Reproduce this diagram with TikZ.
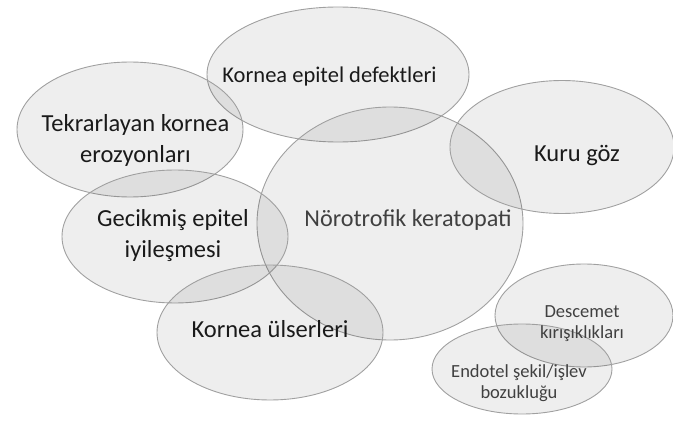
\documentclass[tikz,border=0pt]{standalone}
\usepackage{fontspec}
\setmainfont{Carlito}
\usetikzlibrary{shapes.geometric}
\definecolor{edgegray}{HTML}{A0A0A0}
\definecolor{darktext}{HTML}{1A1A1A}
\definecolor{midtext}{HTML}{404040}
\tikzset{
  blob/.style={ellipse, draw=edgegray, line width=0.9pt, fill=black, fill opacity=0.065,
    draw opacity=1, inner sep=0pt, outer sep=0pt},
  biglabel/.style={font=\fontsize{24.5}{31}\selectfont, text=darktext, align=center, anchor=base, inner sep=0pt},
  greylabel/.style={font=\fontsize{24.2}{31}\selectfont, text=midtext, align=center, anchor=base, inner sep=0pt},
  smalllabel/.style={font=\fontsize{18.5}{21}\selectfont, text=midtext, align=center, anchor=base, inner sep=0pt}
}
\begin{document}
\begin{tikzpicture}[x=1pt, y=-1pt]
\useasboundingbox (0,0) rectangle (673,423);
% ellipses
\node[blob, minimum width=262pt, minimum height=135pt] (ked) at (338,74.5) {};
\node[blob, minimum width=226pt, minimum height=135pt] (tek) at (130,129.5) {};
\node[blob, minimum width=266pt, minimum height=233pt] (nk) at (390,223.5) {};
\node[blob, minimum width=224pt, minimum height=133pt] (kg) at (562,147) {};
\node[blob, minimum width=226pt, minimum height=133pt] (gec) at (175,236.5) {};
\node[blob, minimum width=226pt, minimum height=135pt] (ku) at (270,332.5) {};
\node[blob, minimum width=178pt, minimum height=103pt] (des) at (584,315.5) {};
\node[blob, minimum width=180pt, minimum height=90pt] (end) at (522,369) {};
% labels (anchor=base is the baseline of the last line)
\node[biglabel, font=\fontsize{22.5}{28}\selectfont] (tked) at (329.5,82) {Kornea epitel defektleri};
\node[biglabel] (ttek) at (135.5,162.5) {Tekrarlayan kornea\\erozyonları};
\node[greylabel] (tnk) at (408,226) {Nörotrofik keratopati};
\node[biglabel] (tkg) at (577,161) {Kuru göz};
\node[biglabel] (tgec) at (173,257.5) {Gecikmiş epitel\\iyileşmesi};
\node[biglabel] (tku) at (270,337) {Kornea ülserleri};
\node[smalllabel] (tdes) at (582,338) {Descemet\\kırışıklıkları};
\node[smalllabel] (tend) at (519,398) {Endotel şekil/işlev\\bozukluğu};
\end{tikzpicture}
\end{document}
